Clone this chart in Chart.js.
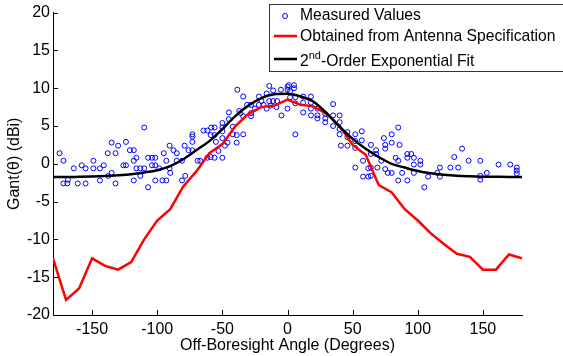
<!DOCTYPE html>
<html lang="en">
<head>
<meta charset="UTF-8">
<title>Antenna Gain vs Off-Boresight Angle</title>
<script src="https://cdn.jsdelivr.net/npm/chart.js"></script>
<style>
    body { margin: 0; background: #fff; }
    canvas { display: block; }
</style>
</head>
<body>
<canvas id="gainChart" width="563" height="356"></canvas>
<script>
const measAngle = [
    -175, -172, -172, -169, -168.5, -164, -161, -158, -155, -155,
    -149, -149, -144, -144, -141, -138, -137.5, -135, -135, -132,
    -132, -130, -126, -124, -124, -121, -118, -118, -118, -116,
    -116, -113, -113, -110, -110, -107, -107, -104, -104, -101.5,
    -101.5, -101.5, -98.5, -96, -95, -93, -93, -90.5, -90.5, -90,
    -87.5, -85, -85, -81, -81, -79, -78.5, -76, -73, -73,
    -73, -73, -69, -67, -64.5, -61.5, -61.5, -59, -59, -58.5,
    -56, -56, -56, -55, -53, -50, -50, -50, -50, -50,
    -48, -46, -45, -45, -42, -42, -39, -39, -38.5, -37,
    -36, -34, -34, -34, -31, -28, -28, -28, -25, -22,
    -22, -20, -18.5, -16, -16, -14, -14, -13, -11, -11,
    -8, -8.5, -5, -4.6, 0, 0, 0, 1, 2, 2,
    5, 5, 6, 6, 6, 12, 12, 12, 18, 18,
    18, 18, 23, 23, 23, 29, 29, 29, 35, 35,
    35, 40, 40, 40, 40, 41, 46, 46, 46, 52,
    52, 52, 52, 57, 57, 58, 58, 62, 62, 64,
    64, 64, 64, 68, 68, 69, 72, 74, 75, 75,
    75, 77, 80, 80, 80, 83, 85, 85, 85, 86,
    88, 92, 92, 92, 95, 97, 97, 97, 102, 102,
    105, 108, 115, 117, 117, 125, 128, 131, 134, 139,
    148, 148, 148, 153, 162, 171, 176, 176, 176
];
const measGain = [
    1.4, 0.4, -2.6, -2.6, -2.1, -0.6, -2.6, -0.2, -0.6, -2.6,
    0.4, -0.6, -0.6, -2.2, -0.2, 1.4, -1.6, 2.8, -1.2, 1.4,
    -2.6, 2.4, -0.2, -0.2, 2.9, 1.8, 1.8, 0.4, -2.2, 0.8,
    -0.6, -0.6, -1.6, 4.8, -0.6, 0.8, -3.1, 0.8, -0.2, 0.8,
    -0.2, -2.2, -0.6, -2.2, 1.4, 0.4, -2.2, 2.4, -0.6, -1.2,
    1.8, 1.4, 0.4, 0.4, -2.2, 2.4, -1.6, 1.8, 3.9, 3.6,
    2.9, 1.8, 0.4, 0.4, 4.4, 4.4, 0.8, 3.8, 0.9, 4.8,
    4.8, 3.8, 0.8, 2.9, 1.7, 5.4, 4.8, 4.3, 3.4, 0.8,
    2.4, 2.8, 5.9, 6.8, 3.9, 4.9, 2.8, 3.8, 9.8, 7.0,
    6.7, 3.9, 6.3, 8.9, 7.8, 6.7, 6.3, 7.8, 7.3, 8.9,
    7.8, 8.3, 7.8, 9.3, 7.3, 10.3, 8.3, 7.7, 9.7, 8.3,
    8.3, 7.5, 9.8, 6.4, 10.2, 9.8, 7.3, 10.4, 9.6, 8.8,
    10.4, 10.0, 8.0, 8.8, 3.9, 8.9, 8.1, 6.8, 8.9, 8.1,
    7.3, 6.4, 7.3, 6.4, 6.0, 6.6, 6.0, 5.5, 7.9, 6.4,
    5.0, 6.4, 5.5, 4.6, 3.9, 2.4, 4.2, 3.5, 2.4, 3.9,
    3.0, 2.1, -0.5, 3.1, 4.3, 0.4, -1.7, -1.7, -0.6, 2.5,
    1.3, -0.5, -1.6, 1.8, 1.3, -0.5, 0.4, 3.4, 2.5, 2.0,
    -0.7, -1.2, 3.9, 2.8, -1.2, 0.8, 4.8, 0.4, -2.2, 2.5,
    -1.2, 1.3, 0.8, -2.2, 1.3, 0.8, -0.1, -1.2, 0.4, -0.1,
    -3.1, -1.7, -1.2, -0.5, -1.7, -0.5, 0.9, -0.5, 2.0, 0.4,
    0.4, -1.6, -2.1, -1.2, -0.1, -0.1, -0.5, -0.9, -1.3
];

// antenna specification curve
const specAngle = [-180, -170, -160, -150, -140, -130, -120, -110, -100, -90,
    -80, -70, -60, -50, -40, -30, -20, -10, 0, 10,
    20, 30, 40, 50, 60, 70, 80, 90, 100, 110,
    120, 130, 140, 150, 160, 170, 180];
const specGain = [-12.5, -18.0, -16.5, -12.5, -13.5, -14.0, -13.0, -10.0, -7.5, -6.0,
    -3.0, -1.0, 1.4, 2.6, 5.0, 6.6, 7.5, 7.7, 8.5, 7.8,
    7.6, 6.6, 5.0, 2.5, 1.2, -2.8, -3.8, -6.0, -7.5, -9.2,
    -10.6, -11.9, -12.3, -14.0, -14.0, -12.0, -12.5];

// 2nd-order exponential fit
const fitAngle = [-180, -170, -160, -150, -140, -130, -120, -110, -100, -90,
    -80, -70, -60, -50, -40, -30, -20, -10, 0, 10,
    20, 30, 40, 50, 60, 70, 80, 90, 100, 110,
    120, 130, 140, 150, 160, 170, 180];
const fitGain = [-1.75, -1.75, -1.72, -1.68, -1.62, -1.52, -1.38, -1.15, -0.85, -0.3,
    0.6, 1.8, 3.0, 4.6, 6.3, 7.7, 8.7, 9.2, 9.25, 8.9,
    8.2, 6.7, 4.9, 3.3, 2.0, 0.9, 0.0, -0.5, -0.95, -1.25,
    -1.45, -1.58, -1.65, -1.7, -1.72, -1.74, -1.75];

const xTicks = [-150, -100, -50, 0, 50, 100, 150];
const yTicks = [-20, -15, -10, -5, 0, 5, 10, 15, 20];

const FONT = 'Arial, "Liberation Sans", sans-serif';

function toPoints(xs, ys) {
    return xs.map((v, i) => ({x: v, y: ys[i]}));
}

// MATLAB style ticks pointing into the plot
const inwardTicks = {
    id: 'inwardTicks',
    afterDraw(chart) {
        const {ctx, chartArea: a, scales: {x, y}} = chart;
        ctx.save();
        ctx.strokeStyle = '#000';
        ctx.lineWidth = 1;
        ctx.beginPath();
        xTicks.forEach(v => {
            const px = Math.round(x.getPixelForValue(v)) + 0.5;
            ctx.moveTo(px, a.bottom);
            ctx.lineTo(px, a.bottom - 5);
        });
        yTicks.forEach(v => {
            const py = Math.round(y.getPixelForValue(v)) + 0.5;
            ctx.moveTo(a.left, py);
            ctx.lineTo(a.left + 5, py);
        });
        ctx.stroke();
        ctx.restore();
    }
};

// boxed legend in the top right corner
const boxLegend = {
    id: 'boxLegend',
    afterDraw(chart) {
        const ctx = chart.ctx;
        const bx = 269.5, by = 4.5, bw = 300, bh = 67;
        ctx.save();
        ctx.fillStyle = '#fff';
        ctx.fillRect(bx, by, bw, bh);
        ctx.strokeStyle = '#333';
        ctx.lineWidth = 1;
        ctx.strokeRect(bx, by, bw, bh);

        // measured marker
        ctx.strokeStyle = '#0000ff';
        ctx.beginPath();
        ctx.arc(285, 16, 2.5, 0, Math.PI * 2);
        ctx.stroke();

        // line samples
        ctx.lineWidth = 2.5;
        ctx.strokeStyle = '#ff0000';
        ctx.beginPath();
        ctx.moveTo(274, 36);
        ctx.lineTo(297, 36);
        ctx.stroke();
        ctx.strokeStyle = '#000';
        ctx.beginPath();
        ctx.moveTo(274, 59);
        ctx.lineTo(297, 59);
        ctx.stroke();

        ctx.fillStyle = '#000';
        ctx.textBaseline = 'middle';
        ctx.textAlign = 'left';
        ctx.font = '15.7px ' + FONT;
        ctx.fillText('Measured Values', 300, 16);
        ctx.fillText('Obtained from Antenna Specification', 300, 37);
        let tx = 300;
        ctx.fillText('2', tx, 62);
        tx += ctx.measureText('2').width;
        ctx.font = '11px ' + FONT;
        ctx.fillText('nd', tx, 56);
        tx += ctx.measureText('nd').width;
        ctx.font = '15.7px ' + FONT;
        ctx.fillText('-Order Exponential Fit', tx, 62);
        ctx.restore();
    }
};

const ctx = document.getElementById('gainChart').getContext('2d');
new Chart(ctx, {
    type: 'scatter',
    data: {
        datasets: [
            {
                label: 'Measured Values',
                data: toPoints(measAngle, measGain),
                pointStyle: 'circle',
                pointRadius: 2.5,
                pointBorderWidth: 1,
                borderColor: '#0000ff',
                backgroundColor: 'rgba(0,0,0,0)',
                order: 3
            },
            {
                type: 'line',
                label: 'Obtained from Antenna Specification',
                data: toPoints(specAngle, specGain),
                borderColor: '#ff0000',
                borderWidth: 2.5,
                pointRadius: 0,
                tension: 0,
                fill: false,
                order: 2
            },
            {
                type: 'line',
                label: '2nd-Order Exponential Fit',
                data: toPoints(fitAngle, fitGain),
                borderColor: '#000',
                borderWidth: 2.5,
                pointRadius: 0,
                cubicInterpolationMode: 'monotone',
                fill: false,
                order: 1
            }
        ]
    },
    options: {
        responsive: false,
        animation: false,
        layout: { padding: { left: 0, right: 41, top: 10, bottom: 0 } },
        plugins: {
            legend: { display: false },
            tooltip: { enabled: false }
        },
        scales: {
            x: {
                type: 'linear',
                min: -180,
                max: 180,
                afterBuildTicks: s => { s.ticks = xTicks.map(v => ({value: v})); },
                afterFit: s => { s.height = 41; },
                grid: { display: false, drawTicks: false },
                border: { display: true, color: '#000', width: 1 },
                ticks: { color: '#000', padding: 5, font: { family: FONT, size: 16 } },
                title: {
                    display: true,
                    text: 'Off-Boresight Angle (Degrees)',
                    color: '#000',
                    font: { family: FONT, size: 16 },
                    padding: { top: 0, bottom: 1 }
                }
            },
            y: {
                type: 'linear',
                min: -20,
                max: 20,
                afterBuildTicks: s => { s.ticks = yTicks.map(v => ({value: v})); },
                afterFit: s => { s.width = 53; },
                grid: { display: false, drawTicks: false },
                border: { display: true, color: '#000', width: 1 },
                ticks: { color: '#000', padding: 3, font: { family: FONT, size: 16 } },
                title: {
                    display: true,
                    text: 'Gant(θ) (dBi)',
                    color: '#000',
                    font: { family: FONT, size: 16 },
                    padding: { top: 5, bottom: 0 }
                }
            }
        }
    },
    plugins: [inwardTicks, boxLegend]
});
</script>
</body>
</html>
